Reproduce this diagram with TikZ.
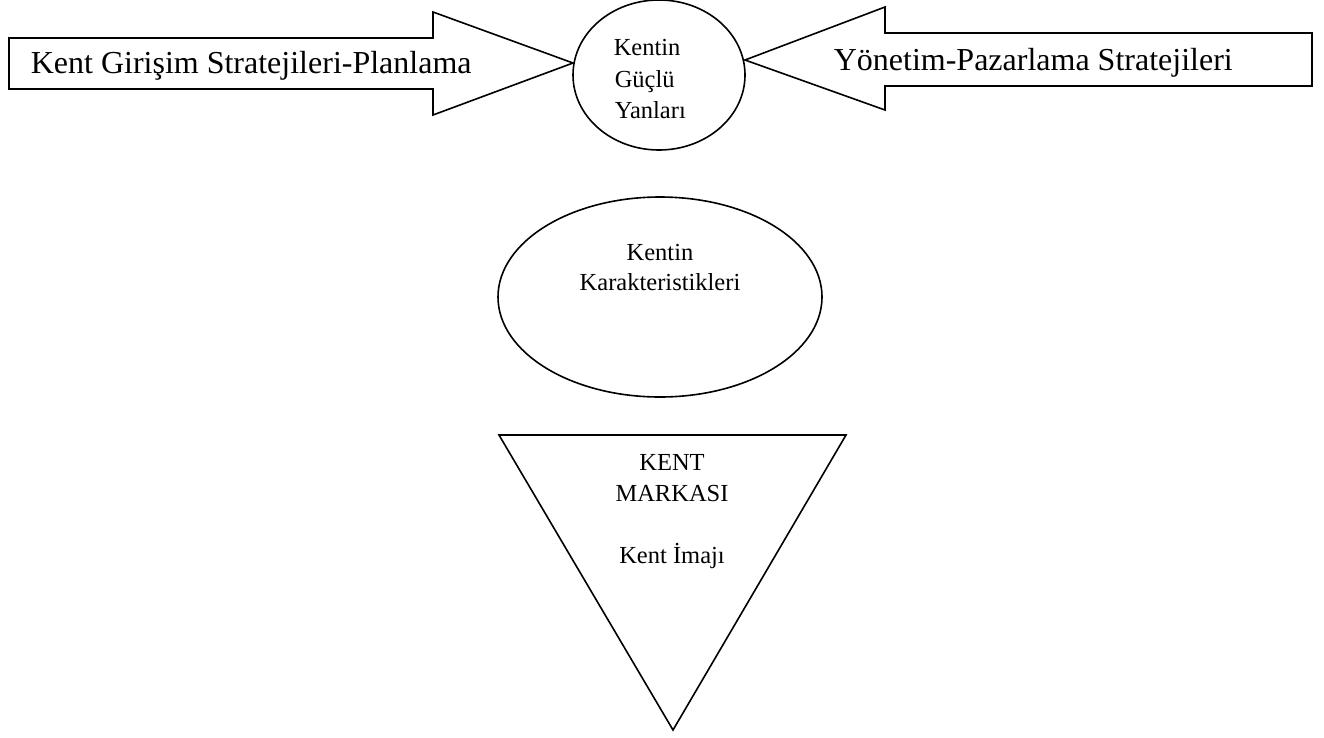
\documentclass[tikz,border=0pt]{standalone}
\usepackage{fontspec}
\setmainfont{Liberation Serif}
\usetikzlibrary{shapes.geometric}
\begin{document}
\begin{tikzpicture}[x=1pt, y=-1pt, line width=1.6pt, line join=miter,
  outline/.style={draw=black, fill=white},
  bigtext/.style={font=\fontsize{32}{38}\selectfont, inner sep=0pt},
  smalltext/.style={font=\fontsize{24.5}{30}\selectfont, inner sep=0pt}]
\useasboundingbox (0,0) rectangle (1324,737);

% central circle: strengths of the city
\node[outline, ellipse, minimum width=172pt, minimum height=150pt, inner sep=0pt] (guclu) at (659,75) {};
\coordinate (ltip) at (573,63);
\coordinate (rtip) at (745,60);

% block arrow from the left
\draw[outline] (9,38) -- (433,38) -- (433,12) -- (ltip) -- (433,115) -- (433,89) -- (9,89) -- cycle;
% block arrow from the right
\draw[outline] (1312,33) -- (885,33) -- (885,7) -- (rtip) -- (885,110) -- (885,86) -- (1312,86) -- cycle;

\node[bigtext, anchor=base west] (girisim) at (30,73) {Kent Girişim Stratejileri-Planlama};
\node[bigtext, anchor=base west] (yonetim) at (833,70) {Yönetim-Pazarlama Stratejileri};

\node[smalltext, anchor=base west] (g1) at (613,55) {Kentin};
\node[smalltext, anchor=base west] (g2) at (614,87) {Güçlü};
\node[smalltext, anchor=base west] (g3) at (614,118) {Yanları};

% ellipse: characteristics of the city
\node[outline, ellipse, minimum width=324pt, minimum height=200pt, inner sep=0pt] (karakter) at (660,297) {};
\node[smalltext, anchor=base] (k1) at (660,260) {Kentin};
\node[smalltext, anchor=base] (k2) at (660,290) {Karakteristikleri};

% inverted triangle: city brand
\draw[outline] (499,435) coordinate (tl) -- (846,435) coordinate (tr) -- (673,730) coordinate (tb) -- cycle;
\node[smalltext, anchor=base] (m1) at (672,470) {KENT};
\node[smalltext, anchor=base] (m2) at (672,501) {MARKASI};
\node[smalltext, anchor=base] (m3) at (672,563) {Kent İmajı};
\end{tikzpicture}
\end{document}
